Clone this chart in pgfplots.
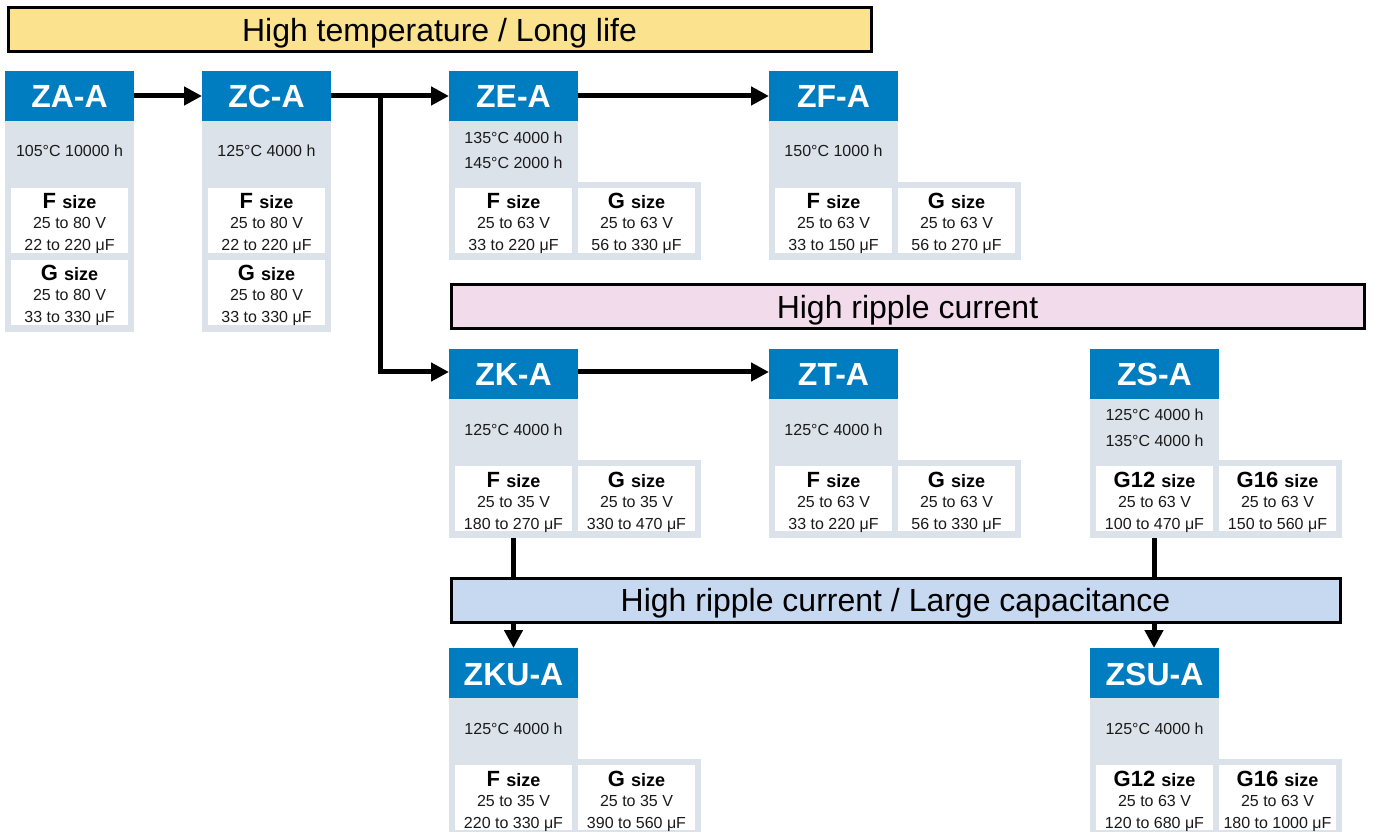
\documentclass[border=0pt]{standalone}
\usepackage{pgfplots}
\pgfplotsset{compat=1.18}
\usepackage{fontspec}
\setmainfont{Liberation Sans}
\usetikzlibrary{arrows.meta}
\definecolor{zblue}{HTML}{007DC1}
\definecolor{zgrey}{HTML}{DCE2EA}
\definecolor{zyel}{HTML}{FBE28F}
\definecolor{zpink}{HTML}{F2DCEC}
\definecolor{zlblue}{HTML}{C6D9F1}
\definecolor{ztext}{HTML}{1A1A1A}
\newcommand{\fs}[1]{\fontsize{#1}{#1}\selectfont}
\tikzset{arr/.style={line width=2.5pt,-{Triangle[length=9pt,width=9pt]}},
         ln/.style={line width=2.5pt}}
% header: x, top, name
\newcommand{\hdr}[3]{%
  \fill[zblue] (axis cs:#1,#2) rectangle (axis cs:#1+129,#2+50);
  \node[anchor=base,text=white,font={\fs{16}\bfseries}] at (axis cs:#1+64.5,#2+37) {#3};}
% temperature line: x, baseline, text
\newcommand{\tline}[3]{%
  \node[anchor=base,text=ztext,font={\fs{8}}] at (axis cs:#1+64.5,#2) {#3};}
% white box: x0, top, label, V, uF
\newcommand{\wbox}[5]{%
  \fill[white] (axis cs:#1,#2) rectangle (axis cs:#1+117,#2+65);
  \node[anchor=base,text=black] at (axis cs:#1+58.5,#2+21) {\fs{11}\bfseries #3 \fs{9}size};
  \node[anchor=base,text=ztext,font={\fs{8}}] at (axis cs:#1+58.5,#2+41) {#4};
  \node[anchor=base,text=ztext,font={\fs{8}}] at (axis cs:#1+58.5,#2+63) {#5};}
% single column box: x, name, temp, FV, FuF, GV, GuF
\newcommand{\singlebox}[7]{%
  \fill[zgrey] (axis cs:#1,121) rectangle (axis cs:#1+129,332);
  \hdr{#1}{71}{#2}
  \tline{#1}{157}{#3}
  \wbox{#1+6}{188}{F}{#4}{#5}
  \wbox{#1+6}{260}{G}{#6}{#7}}
% dual box: x, top, name, bottom, L, LV, LuF, R, RV, RuF
\newcommand{\dualbox}[4]{%
  \fill[zgrey] (axis cs:#1,#2+50) rectangle (axis cs:#1+129,#2+112);
  \fill[zgrey] (axis cs:#1,#2+111) rectangle (axis cs:#1+252,#4);
  \hdr{#1}{#2}{#3}}
\begin{document}
\begin{tikzpicture}
\begin{axis}[width=687.5pt,height=416pt,scale only axis,
  xmin=0,xmax=1375,ymin=0,ymax=832,y dir=reverse,hide axis,clip=false]
\path (axis cs:0,0) rectangle (axis cs:1375,832);
% banners
\draw[fill=zyel,line width=1.5pt] (axis cs:8,8) rectangle (axis cs:871,52);
\node[anchor=base,font={\fs{16}}] at (axis cs:439.5,41.5) {High temperature / Long life};
\draw[fill=zpink,line width=1.5pt] (axis cs:451,285) rectangle (axis cs:1364,329);
\node[anchor=base,font={\fs{16}}] at (axis cs:907.5,318.5) {High ripple current};
% arrows
\draw[arr] (axis cs:134,96) -- (axis cs:202,96);
\draw[arr] (axis cs:331,96) -- (axis cs:449,96);
\draw[ln,line join=miter] (axis cs:380,96) -- (axis cs:380,372) -- (axis cs:420,372);
\draw[arr] (axis cs:378.8,372) -- (axis cs:449,372);
\draw[arr] (axis cs:578,96) -- (axis cs:769,96);
\draw[arr] (axis cs:578,372) -- (axis cs:769,372);
\draw[ln] (axis cs:513.5,537) -- (axis cs:513.5,580);
\draw[ln] (axis cs:1154,537) -- (axis cs:1154,580);
\draw[arr] (axis cs:513.5,620) -- (axis cs:513.5,648);
\draw[arr] (axis cs:1154,620) -- (axis cs:1154,648);
\draw[fill=zlblue,line width=1.5pt] (axis cs:451,578) rectangle (axis cs:1340,622);
\node[anchor=base,font={\fs{16}}] at (axis cs:895.5,611.5) {High ripple current / Large capacitance};
% row 1
\singlebox{5}{ZA-A}{105°C 10000 h}{25 to 80 V}{22 to 220 μF}{25 to 80 V}{33 to 330 μF}
\singlebox{202}{ZC-A}{125°C 4000 h}{25 to 80 V}{22 to 220 μF}{25 to 80 V}{33 to 330 μF}
\dualbox{449}{71}{ZE-A}{260}
\tline{449}{144}{135°C 4000 h}
\tline{449}{169}{145°C 2000 h}
\wbox{455}{188}{F}{25 to 63 V}{33 to 220 μF}
\wbox{578}{188}{G}{25 to 63 V}{56 to 330 μF}
\dualbox{769}{71}{ZF-A}{260}
\tline{769}{157}{150°C 1000 h}
\wbox{775}{188}{F}{25 to 63 V}{33 to 150 μF}
\wbox{898}{188}{G}{25 to 63 V}{56 to 270 μF}
% row 2
\dualbox{449}{349}{ZK-A}{538}
\tline{449}{435}{125°C 4000 h}
\wbox{455}{466}{F}{25 to 35 V}{180 to 270 μF}
\wbox{578}{466}{G}{25 to 35 V}{330 to 470 μF}
\dualbox{769}{349}{ZT-A}{538}
\tline{769}{435}{125°C 4000 h}
\wbox{775}{466}{F}{25 to 63 V}{33 to 220 μF}
\wbox{898}{466}{G}{25 to 63 V}{56 to 330 μF}
\dualbox{1090}{349}{ZS-A}{538}
\tline{1090}{421}{125°C 4000 h}
\tline{1090}{446}{135°C 4000 h}
\wbox{1096}{466}{G12}{25 to 63 V}{100 to 470 μF}
\wbox{1219}{466}{G16}{25 to 63 V}{150 to 560 μF}
% row 3
\dualbox{449}{648}{ZKU-A}{832}
\tline{449}{734}{125°C 4000 h}
\wbox{455}{765}{F}{25 to 35 V}{220 to 330 μF}
\wbox{578}{765}{G}{25 to 35 V}{390 to 560 μF}
\dualbox{1090}{648}{ZSU-A}{832}
\tline{1090}{734}{125°C 4000 h}
\wbox{1096}{765}{G12}{25 to 63 V}{120 to 680 μF}
\wbox{1219}{765}{G16}{25 to 63 V}{180 to 1000 μF}
\end{axis}
\end{tikzpicture}
\end{document}
